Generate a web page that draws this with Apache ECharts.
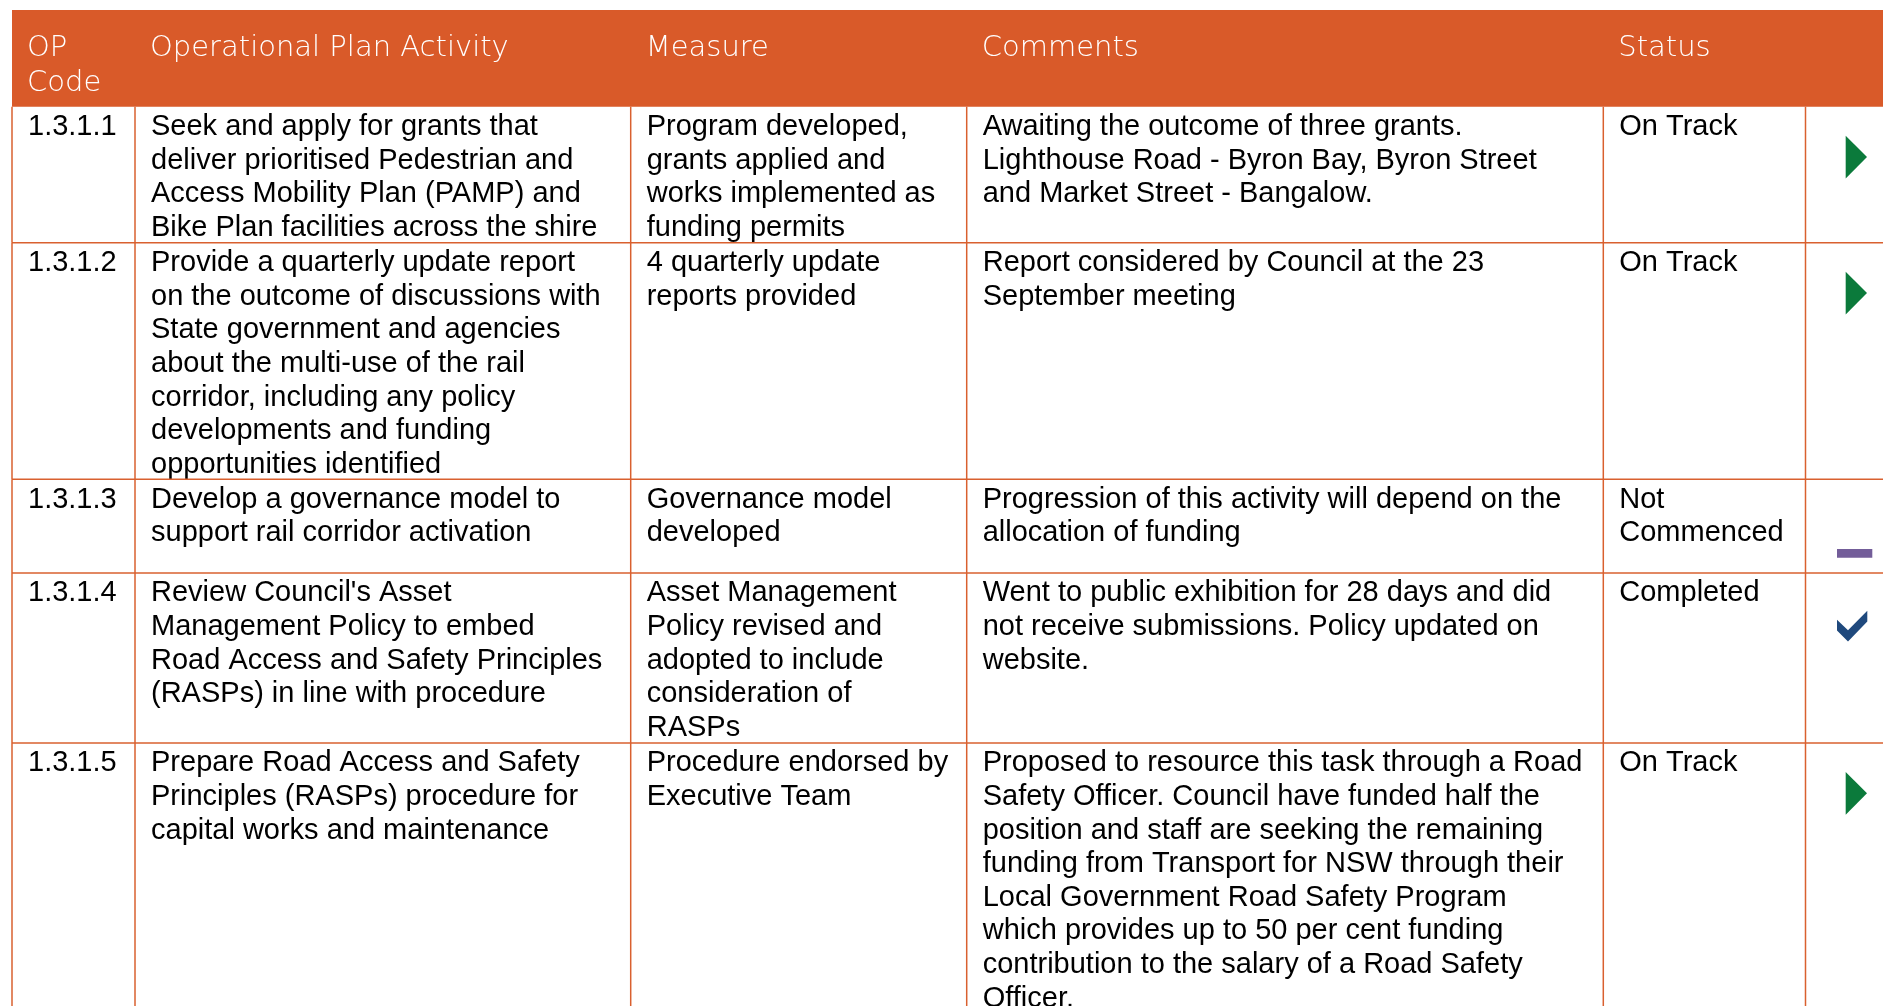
<!DOCTYPE html>
<html>
<head>
<meta charset="utf-8">
<script src="https://cdn.jsdelivr.net/npm/echarts@6/dist/echarts.min.js"></script>
<style>
html,body{margin:0;padding:0;background:#fff;}
#chart{width:1883px;height:1006px;}
</style>
</head>
<body>
<div id="chart"></div>
<script>
// ---------- DATA ----------
const headers = ['OP\nCode', 'Operational Plan Activity', 'Measure', 'Comments', 'Status', ''];
const codes = ['1.3.1.1', '1.3.1.2', '1.3.1.3', '1.3.1.4', '1.3.1.5'];
const activities = [
  'Seek and apply for grants that\ndeliver prioritised Pedestrian and\nAccess Mobility Plan (PAMP) and\nBike Plan facilities across the shire',
  'Provide a quarterly update report\non the outcome of discussions with\nState government and agencies\nabout the multi-use of the rail\ncorridor, including any policy\ndevelopments and funding\nopportunities identified',
  'Develop a governance model to\nsupport rail corridor activation',
  "Review Council's Asset\nManagement Policy to embed\nRoad Access and Safety Principles\n(RASPs) in line with procedure",
  'Prepare Road Access and Safety\nPrinciples (RASPs) procedure for\ncapital works and maintenance'
];
const measures = [
  'Program developed,\ngrants applied and\nworks implemented as\nfunding permits',
  '4 quarterly update\nreports provided',
  'Governance model\ndeveloped',
  'Asset Management\nPolicy revised and\nadopted to include\nconsideration of\nRASPs',
  'Procedure endorsed by\nExecutive Team'
];
const comments = [
  'Awaiting the outcome of three grants.\nLighthouse Road - Byron Bay, Byron Street\nand Market Street - Bangalow.',
  'Report considered by Council at the 23\nSeptember meeting',
  'Progression of this activity will depend on the\nallocation of funding',
  'Went to public exhibition for 28 days and did\nnot receive submissions. Policy updated on\nwebsite.',
  'Proposed to resource this task through a Road\nSafety Officer. Council have funded half the\nposition and staff are seeking the remaining\nfunding from Transport for NSW through their\nLocal Government Road Safety Program\nwhich provides up to 50 per cent funding\ncontribution to the salary of a Road Safety\nOfficer.'
];
const statuses = ['On Track', 'On Track', 'Not\nCommenced', 'Completed', 'On Track'];

// ---------- LAYOUT (table geometry, in page units) ----------
const COL_EDGES = [12, 135, 630.7, 966.7, 1603.3, 1805.5, 1883];
const TABLE_TOP = 10;
const HEADER_H = 96.7;
const ROW_H = [136, 236.6, 93.7, 170, 305];
const PAD_X = 16;
const ORANGE = '#D95A29';
const LINE = '#D9602F';
const ICON = {
  'On Track': { type: 'tri', color: '#0B7A3B' },
  'Not\nCommenced': { type: 'dash', color: '#735D99' },
  'Completed': { type: 'check', color: '#1F497D' }
};

const rowTops = [TABLE_TOP + HEADER_H];
ROW_H.forEach((h, i) => rowTops.push(rowTops[i] + h));

const bodyFont = { fontFamily: 'Liberation Sans', fontSize: 29, lineHeight: 33.6 };
const headFont = { fontFamily: 'DejaVu Sans', fontWeight: 200, fontSize: 29, lineHeight: 35.7 };

const chart = echarts.init(document.getElementById('chart'), null, { renderer: 'canvas' });

function renderRow(params, api) {
  const r = api.value(0); // -1 = header
  const children = [];
  const P = (x, y) => api.coord([x, y]);
  if (r < 0) {
    const a = P(COL_EDGES[0], TABLE_TOP), b = P(COL_EDGES[6], TABLE_TOP + HEADER_H);
    children.push({ type: 'rect', shape: { x: a[0], y: a[1], width: b[0] - a[0], height: b[1] - a[1] }, style: { fill: ORANGE } });
    headers.forEach((h, c) => {
      if (!h) return;
      const p = P(COL_EDGES[c] + PAD_X - 1, TABLE_TOP + 20.3);
      children.push({ type: 'text', x: p[0], y: p[1], style: Object.assign({ text: h, fill: '#ffffff', align: 'left', verticalAlign: 'top' }, headFont) });
    });
    return { type: 'group', children };
  }
  const top = rowTops[r], bot = rowTops[r + 1];
  const cells = [codes[r], activities[r], measures[r], comments[r], statuses[r]];
  cells.forEach((t, c) => {
    const p = P(COL_EDGES[c] + PAD_X, top + 3.6);
    children.push({ type: 'text', x: p[0], y: p[1], style: Object.assign({ text: t, fill: '#000000', align: 'left', verticalAlign: 'top' }, bodyFont) });
  });
  // grid lines
  const lt = P(COL_EDGES[0], top), rb = P(COL_EDGES[6], bot);
  children.push({ type: 'line', shape: { x1: lt[0], y1: rb[1], x2: rb[0], y2: rb[1] }, style: { stroke: LINE, lineWidth: 1.5 } });
  for (let c = 0; c < 6; c++) {
    const q1 = P(COL_EDGES[c], top), q2 = P(COL_EDGES[c], bot);
    children.push({ type: 'line', shape: { x1: q1[0], y1: q1[1], x2: q2[0], y2: q2[1] }, style: { stroke: LINE, lineWidth: 1.5 } });
  }
  // status icon
  const ic = ICON[statuses[r]];
  const ix = COL_EDGES[5];
  let pts = null;
  if (ic.type === 'tri') pts = [[ix + 40.2, top + 29], [ix + 61.5, top + 50.3], [ix + 40.2, top + 71.7]];
  if (ic.type === 'dash') pts = [[ix + 31.5, top + 69.7], [ix + 66.8, top + 69.7], [ix + 66.8, top + 78.4], [ix + 31.5, top + 78.4]];
  if (ic.type === 'check') pts = [[ix + 31.5, top + 46.7], [ix + 42.5, top + 57.2], [ix + 61.8, top + 37.7], [ix + 61.8, top + 48.4], [ix + 42.5, top + 68.4], [ix + 31.5, top + 57.4]];
  children.push({ type: 'polygon', shape: { points: pts.map(p => P(p[0], p[1])) }, style: { fill: ic.color } });
  return { type: 'group', children };
}

chart.setOption({
  animation: false,
  grid: { left: 0, right: 0, top: 0, bottom: 0 },
  xAxis: { type: 'value', min: 0, max: 1883, show: false },
  yAxis: { type: 'value', min: 0, max: 1006, inverse: true, show: false },
  series: [{
    type: 'custom',
    clip: false,
    renderItem: renderRow,
    data: [[-1], ...codes.map((_, i) => [i])]
  }]
});
</script>
</body>
</html>
